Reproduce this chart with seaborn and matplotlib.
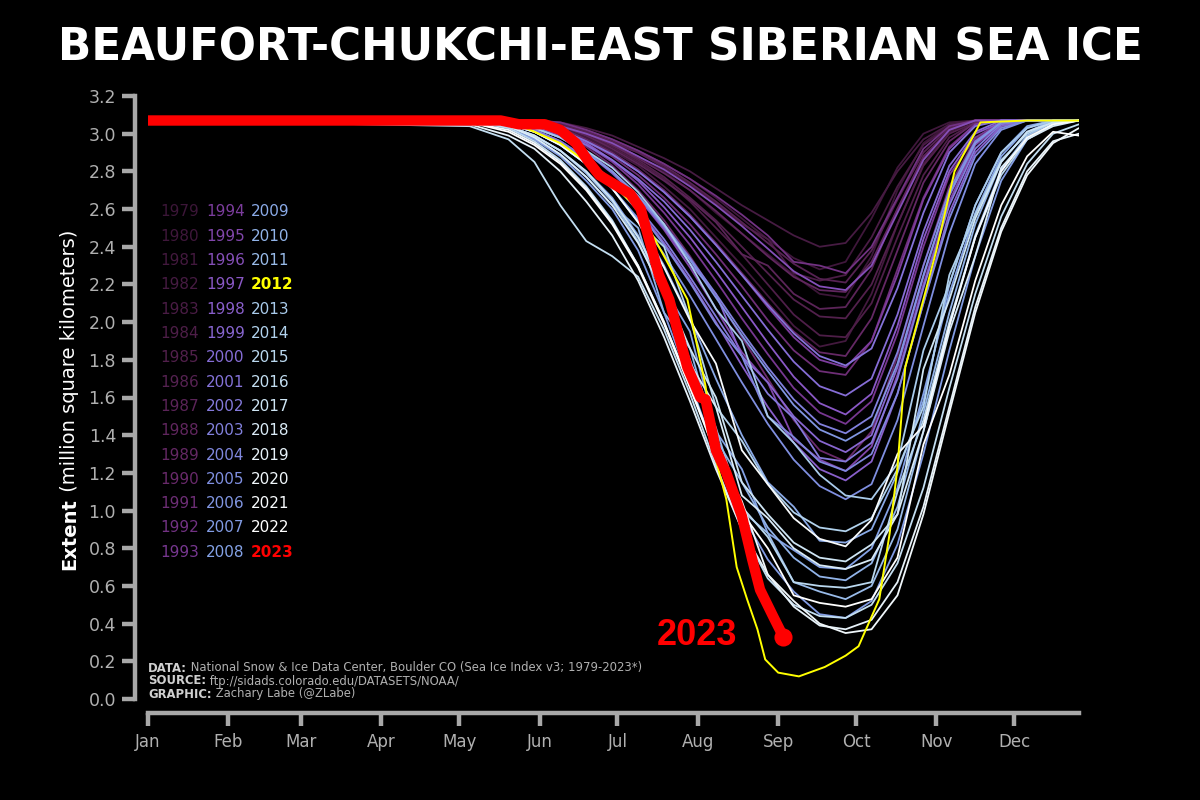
import matplotlib
matplotlib.use("Agg")
import matplotlib.pyplot as plt
import seaborn as sns
import pandas as pd
from matplotlib.colors import LinearSegmentedColormap, to_hex

# ---------------- data ----------------
TITLE = "BEAUFORT-CHUKCHI-EAST SIBERIAN SEA ICE"
MONTHS = ["Jan", "Feb", "Mar", "Apr", "May", "Jun", "Jul", "Aug", "Sep", "Oct", "Nov", "Dec"]
MONTH_START_DAYS = [1, 32, 60, 91, 121, 152, 182, 213, 244, 274, 305, 335]
Y_TICKS = [0.0, 0.2, 0.4, 0.6, 0.8, 1.0, 1.2, 1.4, 1.6, 1.8, 2.0, 2.2, 2.4, 2.6, 2.8, 3.0, 3.2]

# day-of-year sample points used for 1979-2022 (except 2012)
DAYS = [1, 125, 140, 150, 160, 170, 180, 190, 200, 210, 220, 230, 240, 250, 260, 270, 280, 290, 300, 310, 320, 330, 340, 350, 360]

ext_1979 = [3.07, 3.07, 3.07, 3.06, 3.05, 3.01, 2.95, 2.88, 2.80, 2.70, 2.58, 2.47, 2.36, 2.25, 2.15, 2.13, 2.35, 2.70, 2.95, 3.05, 3.07, 3.07, 3.07, 3.07, 3.07]
ext_1980 = [3.07, 3.07, 3.07, 3.07, 3.05, 3.02, 2.97, 2.91, 2.84, 2.76, 2.66, 2.55, 2.44, 2.34, 2.28, 2.32, 2.55, 2.82, 3.00, 3.06, 3.07, 3.07, 3.07, 3.07, 3.07]
ext_1981 = [3.07, 3.07, 3.07, 3.06, 3.03, 2.98, 2.91, 2.83, 2.72, 2.60, 2.45, 2.30, 2.14, 1.98, 1.87, 1.90, 2.15, 2.52, 2.84, 3.01, 3.07, 3.07, 3.07, 3.07, 3.07]
ext_1982 = [3.07, 3.07, 3.07, 3.07, 3.06, 3.03, 2.99, 2.93, 2.87, 2.80, 2.71, 2.62, 2.54, 2.46, 2.40, 2.42, 2.58, 2.80, 2.97, 3.05, 3.07, 3.07, 3.07, 3.07, 3.07]
ext_1983 = [3.07, 3.07, 3.07, 3.06, 3.04, 3.00, 2.95, 2.90, 2.82, 2.73, 2.63, 2.52, 2.44, 2.26, 2.22, 2.25, 2.45, 2.72, 2.94, 3.04, 3.07, 3.07, 3.07, 3.07, 3.07]
ext_1984 = [3.07, 3.07, 3.07, 3.06, 3.04, 2.99, 2.93, 2.85, 2.76, 2.64, 2.50, 2.36, 2.20, 2.04, 1.93, 1.92, 2.10, 2.45, 2.78, 2.98, 3.06, 3.07, 3.07, 3.07, 3.07]
ext_1985 = [3.07, 3.07, 3.07, 3.06, 3.05, 3.00, 2.94, 2.86, 2.77, 2.66, 2.54, 2.40, 2.26, 2.12, 2.03, 2.02, 2.20, 2.52, 2.83, 3.00, 3.06, 3.07, 3.07, 3.07, 3.07]
ext_1986 = [3.07, 3.07, 3.07, 3.07, 3.05, 3.01, 2.96, 2.90, 2.83, 2.74, 2.64, 2.53, 2.42, 2.31, 2.23, 2.21, 2.38, 2.65, 2.90, 3.03, 3.07, 3.07, 3.07, 3.07, 3.07]
ext_1987 = [3.07, 3.07, 3.07, 3.06, 3.04, 2.99, 2.92, 2.84, 2.75, 2.65, 2.53, 2.36, 2.30, 2.15, 2.07, 2.08, 2.28, 2.60, 2.88, 3.02, 3.07, 3.07, 3.07, 3.07, 3.07]
ext_1988 = [3.07, 3.07, 3.07, 3.06, 3.04, 3.00, 2.94, 2.87, 2.79, 2.70, 2.59, 2.47, 2.35, 2.24, 2.17, 2.16, 2.32, 2.60, 2.87, 3.02, 3.07, 3.07, 3.07, 3.07, 3.07]
ext_1989 = [3.07, 3.07, 3.07, 3.06, 3.03, 2.97, 2.90, 2.81, 2.70, 2.57, 2.42, 2.26, 2.10, 1.95, 1.84, 1.82, 2.02, 2.38, 2.74, 2.96, 3.06, 3.07, 3.07, 3.07, 3.07]
ext_1990 = [3.07, 3.07, 3.06, 3.04, 3.00, 2.93, 2.83, 2.70, 2.54, 2.35, 2.14, 1.92, 1.70, 1.48, 1.32, 1.26, 1.42, 1.82, 2.30, 2.72, 2.97, 3.06, 3.07, 3.07, 3.07]
ext_1991 = [3.07, 3.07, 3.07, 3.05, 3.02, 2.96, 2.88, 2.78, 2.66, 2.52, 2.36, 2.19, 2.01, 1.85, 1.74, 1.72, 1.90, 2.28, 2.66, 2.93, 3.05, 3.07, 3.07, 3.07, 3.07]
ext_1992 = [3.07, 3.07, 3.07, 3.07, 3.06, 3.02, 2.97, 2.91, 2.84, 2.76, 2.67, 2.57, 2.46, 2.32, 2.30, 2.26, 2.40, 2.66, 2.92, 3.04, 3.07, 3.07, 3.07, 3.07, 3.07]
ext_1993 = [3.07, 3.07, 3.07, 3.05, 3.01, 2.94, 2.85, 2.73, 2.58, 2.41, 2.22, 2.02, 1.83, 1.65, 1.52, 1.46, 1.58, 1.94, 2.40, 2.78, 2.98, 3.06, 3.07, 3.07, 3.07]
ext_1994 = [3.07, 3.07, 3.07, 3.05, 3.02, 2.96, 2.89, 2.80, 2.69, 2.56, 2.41, 2.25, 2.08, 1.92, 1.80, 1.76, 1.90, 2.25, 2.65, 2.92, 3.05, 3.07, 3.07, 3.07, 3.07]
ext_1995 = [3.07, 3.07, 3.06, 3.04, 2.99, 2.91, 2.80, 2.66, 2.49, 2.29, 2.07, 1.84, 1.68, 1.38, 1.27, 1.21, 1.34, 1.72, 2.20, 2.64, 2.94, 3.05, 3.07, 3.07, 3.07]
ext_1996 = [3.07, 3.07, 3.07, 3.06, 3.04, 3.00, 2.95, 2.88, 2.81, 2.72, 2.62, 2.51, 2.39, 2.27, 2.19, 2.17, 2.30, 2.58, 2.86, 3.02, 3.07, 3.07, 3.07, 3.07, 3.07]
ext_1997 = [3.07, 3.07, 3.07, 3.05, 3.01, 2.95, 2.86, 2.75, 2.61, 2.45, 2.27, 2.08, 1.89, 1.71, 1.57, 1.51, 1.62, 1.98, 2.44, 2.80, 3.00, 3.06, 3.07, 3.07, 3.07]
ext_1998 = [3.07, 3.07, 3.05, 3.02, 2.96, 2.87, 2.75, 2.60, 2.42, 2.22, 2.00, 1.77, 1.55, 1.36, 1.22, 1.16, 1.26, 1.62, 2.10, 2.58, 2.90, 3.04, 3.07, 3.07, 3.07]
ext_1999 = [3.07, 3.07, 3.06, 3.03, 2.98, 2.90, 2.79, 2.66, 2.50, 2.31, 2.15, 1.82, 1.68, 1.50, 1.37, 1.31, 1.40, 1.76, 2.24, 2.67, 2.95, 3.06, 3.07, 3.07, 3.07]
ext_2000 = [3.07, 3.07, 3.06, 3.04, 3.00, 2.94, 2.86, 2.76, 2.64, 2.49, 2.32, 2.14, 1.96, 1.79, 1.66, 1.61, 1.70, 2.04, 2.48, 2.83, 3.01, 3.07, 3.07, 3.07, 3.07]
ext_2001 = [3.07, 3.07, 3.07, 3.05, 3.02, 2.96, 2.89, 2.80, 2.69, 2.56, 2.41, 2.25, 2.09, 1.94, 1.82, 1.77, 1.86, 2.18, 2.58, 2.90, 3.04, 3.07, 3.07, 3.07, 3.07]
ext_2002 = [3.07, 3.07, 3.05, 3.02, 2.96, 2.87, 2.75, 2.61, 2.44, 2.24, 2.03, 1.82, 1.62, 1.49, 1.28, 1.26, 1.36, 1.70, 2.18, 2.62, 2.92, 3.05, 3.07, 3.07, 3.07]
ext_2003 = [3.07, 3.07, 3.06, 3.03, 2.98, 2.90, 2.80, 2.67, 2.52, 2.34, 2.15, 1.95, 1.76, 1.59, 1.46, 1.41, 1.50, 1.84, 2.30, 2.70, 2.96, 3.06, 3.07, 3.07, 3.07]
ext_2004 = [3.07, 3.07, 3.05, 3.01, 2.95, 2.86, 2.74, 2.59, 2.41, 2.21, 1.99, 1.82, 1.50, 1.39, 1.26, 1.21, 1.30, 1.62, 2.10, 2.55, 2.88, 3.03, 3.07, 3.07, 3.07]
ext_2005 = [3.07, 3.07, 3.05, 3.01, 2.94, 2.84, 2.71, 2.55, 2.36, 2.14, 1.91, 1.68, 1.46, 1.27, 1.13, 1.06, 1.14, 1.48, 1.98, 2.47, 2.84, 3.02, 3.07, 3.07, 3.07]
ext_2006 = [3.07, 3.07, 3.06, 3.03, 2.98, 2.90, 2.80, 2.67, 2.51, 2.33, 2.13, 1.93, 1.74, 1.56, 1.43, 1.37, 1.45, 1.78, 2.25, 2.68, 2.95, 3.06, 3.07, 3.07, 3.07]
ext_2007 = [3.07, 3.07, 3.03, 2.97, 2.88, 2.75, 2.60, 2.38, 2.05, 1.68, 1.30, 0.98, 0.74, 0.57, 0.45, 0.43, 0.52, 0.82, 1.30, 1.85, 2.35, 2.75, 2.97, 3.05, 3.07]
ext_2008 = [3.07, 3.07, 3.04, 2.99, 2.91, 2.80, 2.66, 2.46, 2.18, 1.95, 1.42, 1.22, 0.88, 0.79, 0.70, 0.69, 0.80, 1.12, 1.62, 2.15, 2.58, 2.88, 3.03, 3.07, 3.07]
ext_2009 = [3.07, 3.07, 3.05, 3.01, 2.94, 2.84, 2.71, 2.54, 2.30, 2.02, 1.70, 1.40, 1.15, 1.02, 0.84, 0.83, 0.90, 1.20, 1.58, 2.20, 2.62, 2.90, 3.04, 3.07, 3.07]
ext_2010 = [3.07, 3.07, 3.04, 2.98, 2.89, 2.77, 2.62, 2.50, 2.05, 1.86, 1.38, 1.15, 0.91, 0.75, 0.65, 0.63, 0.72, 1.02, 1.52, 2.05, 2.52, 2.85, 3.01, 3.07, 3.07]
ext_2011 = [3.07, 3.07, 3.04, 2.99, 2.91, 2.79, 2.64, 2.43, 2.14, 1.80, 1.44, 1.00, 0.88, 0.62, 0.57, 0.53, 0.60, 0.90, 1.42, 1.98, 2.46, 2.81, 2.99, 3.06, 3.07]
ext_2013 = [3.07, 3.07, 3.06, 3.03, 2.98, 2.91, 2.82, 2.69, 2.52, 2.31, 2.07, 1.90, 1.50, 1.36, 1.19, 1.08, 1.06, 1.25, 1.85, 2.20, 2.62, 2.90, 3.03, 3.07, 3.07]
ext_2014 = [3.07, 3.07, 3.05, 3.01, 2.94, 2.84, 2.71, 2.53, 2.40, 2.02, 1.55, 1.37, 1.14, 0.99, 0.91, 0.89, 0.96, 1.22, 1.55, 2.25, 2.57, 2.86, 3.00, 3.06, 3.07]
ext_2015 = [3.07, 3.07, 3.03, 2.96, 2.86, 2.72, 2.54, 2.30, 2.00, 1.66, 1.31, 1.02, 0.86, 0.62, 0.60, 0.59, 0.62, 1.10, 1.48, 2.00, 2.45, 2.78, 2.97, 3.05, 3.07]
ext_2016 = [3.07, 3.04, 2.97, 2.85, 2.62, 2.43, 2.35, 2.24, 1.96, 1.62, 1.24, 0.90, 0.64, 0.50, 0.44, 0.43, 0.50, 0.72, 1.12, 1.65, 2.15, 2.56, 2.84, 3.00, 3.05]
ext_2017 = [3.07, 3.07, 3.04, 2.99, 2.91, 2.80, 2.65, 2.45, 2.18, 1.86, 1.60, 1.15, 0.98, 0.83, 0.75, 0.73, 0.82, 0.98, 1.75, 2.12, 2.55, 2.85, 3.01, 3.06, 3.07]
ext_2018 = [3.07, 3.07, 3.04, 2.98, 2.89, 2.77, 2.62, 2.42, 2.15, 1.78, 1.55, 1.08, 0.96, 0.80, 0.71, 0.69, 0.74, 0.98, 1.42, 1.95, 2.35, 2.82, 2.97, 3.04, 3.07]
ext_2019 = [3.07, 3.05, 2.99, 2.92, 2.80, 2.64, 2.46, 2.22, 1.92, 1.58, 1.22, 0.90, 0.66, 0.49, 0.39, 0.37, 0.42, 0.62, 1.02, 1.55, 2.08, 2.50, 2.80, 2.96, 3.00]
ext_2020 = [3.07, 3.06, 3.02, 2.95, 2.85, 2.71, 2.53, 2.30, 2.00, 1.66, 1.30, 1.05, 0.66, 0.52, 0.40, 0.35, 0.37, 0.55, 0.98, 1.52, 2.05, 2.48, 2.78, 2.95, 3.03]
ext_2021 = [3.07, 3.07, 3.05, 3.01, 2.94, 2.84, 2.71, 2.53, 2.29, 2.01, 1.78, 1.32, 1.14, 0.96, 0.85, 0.81, 0.95, 1.30, 1.45, 1.98, 2.45, 2.80, 2.98, 3.05, 3.07]
ext_2022 = [3.07, 3.06, 3.01, 2.94, 2.84, 2.70, 2.52, 2.29, 1.99, 1.65, 1.30, 0.99, 0.80, 0.55, 0.51, 0.49, 0.53, 0.75, 1.35, 1.72, 2.22, 2.62, 2.88, 3.01, 2.99]

# record year 2012 (highlighted, yellow)
DAYS_2012 = [1, 130, 145, 160, 175, 190, 200, 209, 216, 220, 224, 228, 232, 236, 239, 244, 252, 262, 270, 275, 283, 287, 290, 293, 300, 305, 312, 322, 340, 360]
ext_2012 = [3.07, 3.07, 3.04, 2.95, 2.80, 2.60, 2.35, 2.12, 1.66, 1.27, 1.06, 0.70, 0.53, 0.37, 0.21, 0.14, 0.12, 0.17, 0.23, 0.28, 0.53, 0.88, 1.23, 1.76, 2.12, 2.38, 2.80, 3.06, 3.07, 3.07]

# current year 2023 (highlighted, red)
DAYS_2023 = [1, 137, 144, 154, 160, 166, 171, 175, 181, 187, 191, 194, 198, 202, 209, 214, 216, 220, 224, 230, 234, 237, 242, 246]
ext_2023 = [3.07, 3.07, 3.05, 3.05, 3.02, 2.95, 2.85, 2.78, 2.73, 2.68, 2.60, 2.45, 2.25, 2.12, 1.76, 1.60, 1.59, 1.32, 1.20, 0.97, 0.74, 0.58, 0.44, 0.33]

LEGEND_YEARS = list(range(1979, 2024))
FOOTER = [("DATA:", " National Snow & Ice Data Center, Boulder CO (Sea Ice Index v3; 1979-2023*)"),
          ("SOURCE:", " ftp://sidads.colorado.edu/DATASETS/NOAA/"),
          ("GRAPHIC:", " Zachary Labe (@ZLabe)")]
YLABEL_BOLD = "Extent"
YLABEL_REST = " (million square kilometers)"

# ---------------- style ----------------
W, H = 1200, 800
BG = "black"
AXIS_GRAY = "#a8a8a8"
TEXT_GRAY = "#b0b0b0"
COLOR_2012 = "#ffff00"
COLOR_2023 = "#ff0000"
CMAP_STOPS = [(0.00, "#3c1638"), (0.14, "#52204c"), (0.26, "#6a2a6c"), (0.34, "#7a3a98"),
              (0.42, "#8a58c6"), (0.50, "#8670d8"), (0.60, "#7f8ee0"), (0.68, "#84a4e6"),
              (0.78, "#a4c8ea"), (0.87, "#c6e0f2"), (0.94, "#eaf4fa"), (1.00, "#ffffff")]

sns.set_theme(style="ticks")
plt.rcParams["font.family"] = ["DejaVu Sans"]

series = {1979: ext_1979, 1980: ext_1980, 1981: ext_1981, 1982: ext_1982, 1983: ext_1983,
          1984: ext_1984, 1985: ext_1985, 1986: ext_1986, 1987: ext_1987, 1988: ext_1988,
          1989: ext_1989, 1990: ext_1990, 1991: ext_1991, 1992: ext_1992, 1993: ext_1993,
          1994: ext_1994, 1995: ext_1995, 1996: ext_1996, 1997: ext_1997, 1998: ext_1998,
          1999: ext_1999, 2000: ext_2000, 2001: ext_2001, 2002: ext_2002, 2003: ext_2003,
          2004: ext_2004, 2005: ext_2005, 2006: ext_2006, 2007: ext_2007, 2008: ext_2008,
          2009: ext_2009, 2010: ext_2010, 2011: ext_2011, 2013: ext_2013, 2014: ext_2014,
          2015: ext_2015, 2016: ext_2016, 2017: ext_2017, 2018: ext_2018, 2019: ext_2019,
          2020: ext_2020, 2021: ext_2021, 2022: ext_2022}

cmap = LinearSegmentedColormap.from_list("ice", CMAP_STOPS)
def year_color(yr):
    if yr == 2012:
        return COLOR_2012
    if yr == 2023:
        return COLOR_2023
    return to_hex(cmap((yr - 1979) / (2022 - 1979)))

rows = []
for yr, vals in series.items():
    for d, v in zip(DAYS, vals, strict=True):
        rows.append((yr, d, v))
bg = pd.DataFrame(rows, columns=["year", "day", "extent"])
palette = {yr: year_color(yr) for yr in series}

fig = plt.figure(figsize=(W / 100, H / 100), dpi=100, facecolor=BG)
ax = fig.add_axes([148 / W, 1 - 699 / H, (1079 - 148) / W, (699 - 96) / H])
ax.set_facecolor(BG)

sns.lineplot(data=bg, x="day", y="extent", hue="year", palette=palette, legend=False,
             linewidth=1.3, estimator=None, sort=False, ax=ax)
sns.lineplot(x=DAYS_2012, y=ext_2012, color=COLOR_2012, linewidth=1.4, estimator=None,
             sort=False, ax=ax, zorder=5)
sns.lineplot(x=DAYS_2023, y=ext_2023, color=COLOR_2023, linewidth=7.5, estimator=None,
             sort=False, ax=ax, zorder=6)
sns.scatterplot(x=[DAYS_2023[-1]], y=[ext_2023[-1]], color=COLOR_2023, s=170,
                linewidth=0, ax=ax, zorder=7)
ax.annotate("2023", (DAYS_2023[-1], ext_2023[-1]), xytext=(-33, -6), textcoords="offset points",
            ha="right", va="baseline", color=COLOR_2023, fontsize=26, fontweight="bold",
            family=["Liberation Sans", "DejaVu Sans"])

ax.set_xlim(1, 360)
ax.set_ylim(0, 3.2)
ax.set_xticks(MONTH_START_DAYS)
ax.set_xticklabels(MONTHS)
ax.set_yticks(Y_TICKS)
ax.set_yticklabels([f"{v:.1f}" for v in Y_TICKS])
ax.set_xlabel("")
ax.set_ylabel("")
ax.grid(False)
sns.despine(ax=ax, offset={"left": 9.5, "bottom": 10})
for side in ["left", "bottom"]:
    ax.spines[side].set_color(AXIS_GRAY)
    ax.spines[side].set_linewidth(3.2)
ax.tick_params(axis="both", which="major", colors=AXIS_GRAY, length=9.5, width=3.2,
               direction="out", labelcolor=TEXT_GRAY, bottom=True, left=True)
ax.tick_params(axis="y", pad=4, labelsize=12.5)
ax.tick_params(axis="x", pad=5, labelsize=12)

# title, auto-fitted to the reference width
title = fig.text(0.5, 1 - 48 / H, TITLE, ha="center", va="center", color="white",
                 fontsize=36, fontweight="bold")
fig.canvas.draw()
r = fig.canvas.get_renderer()
tw = title.get_window_extent(r).width
title.set_fontsize(36 * 1085 / tw)

# legend of years
col_x = [160, 206, 251]
row_y0, row_dy = 212, 24.3
for i, yr in enumerate(LEGEND_YEARS):
    c, rr = divmod(i, 15)
    fw = "bold" if yr in (2012, 2023) else "normal"
    fig.text(col_x[c] / W, 1 - (row_y0 + rr * row_dy) / H, str(yr), ha="left", va="center",
             color=year_color(yr), fontsize=11, fontweight=fw)

# y label: bold + regular
fig.canvas.draw()
yl_x = 70 / W
t1 = fig.text(yl_x, 0, YLABEL_BOLD, rotation=90, ha="center", va="bottom", color="white",
              fontsize=14, fontweight="bold")
t2 = fig.text(yl_x, 0, YLABEL_REST, rotation=90, ha="center", va="bottom", color="white",
              fontsize=14)
fig.canvas.draw()
h1 = t1.get_window_extent(r).height
h2 = t2.get_window_extent(r).height
start = (H - 400) - (h1 + h2) / 2
t1.set_y(start / H)
t2.set_y((start + h1) / H)

# footer: bold key + regular text
for k, (key, rest) in enumerate(FOOTER):
    yy = 1 - (668 + k * 13) / H
    a = fig.text(148 / W, yy, key, ha="left", va="center", color="#d0d0d0", fontsize=8.4,
                 fontweight="bold")
    fig.canvas.draw()
    x1 = a.get_window_extent(r).x1
    fig.text(x1 / W, yy, rest, ha="left", va="center", color=TEXT_GRAY, fontsize=8.4)

fig.savefig("out.png", dpi=100, facecolor=BG)
